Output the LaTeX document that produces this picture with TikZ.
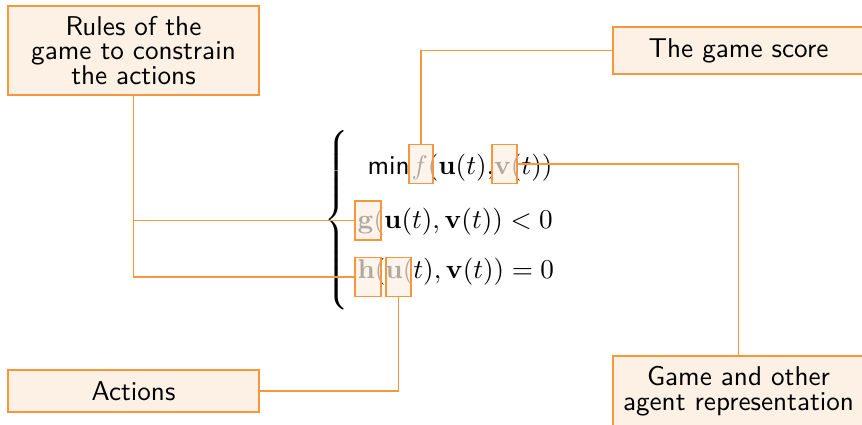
\documentclass[tikz,border=0pt]{standalone}
\usepackage{amsmath}
\definecolor{ocol}{RGB}{247,150,60}
\definecolor{ofill}{RGB}{253,240,228}
\begin{document}
\begin{tikzpicture}[x=0.368pt,y=-0.368pt,
  lbl/.style={draw=ocol, fill=ofill, line width=0.45pt, font={\sffamily\fontsize{10}{9}\selectfont}, align=center, minimum width=92.4pt, inner sep=0pt},
  eq/.style={anchor=base west, inner sep=0pt},
  hl/.style={draw=ocol, fill=ofill, fill opacity=0.7, draw opacity=1, line width=0.45pt, minimum width=9pt, minimum height=14.1pt, inner sep=0pt},
  conn/.style={draw=ocol, line width=0.4pt}]
\useasboundingbox (0,0) rectangle (862,425);
% labelled boxes
\node[lbl, minimum height=32.75pt] (rules) at (133.5,50.5) {Rules of the\\game to constrain\\the actions};
\node[lbl, minimum height=17.3pt] (score) at (738.5,50.5) {The game score};
\node[lbl, minimum height=25.8pt] (game) at (738.5,391) {Game and other\\agent representation};
\node[lbl, minimum height=15.5pt] (actions) at (133.5,391) {Actions};
% equation
\node[inner sep=0pt] (brace) at (338,222) {$\left\{\vrule height 32pt depth 32pt width 0pt\right.$};
\node[eq] (line1a) at (367,175) {\sffamily min};
\node[eq] (line1b) at (411,175) {$f(\mathbf{u}(t),$};
\node[eq, anchor=base east] (line1c) at (553,175) {$\mathbf{v}(t))$};
\node[eq] (line2) at (357,229) {$\mathbf{g}(\mathbf{u}(t),\mathbf{v}(t)) < 0$};
\node[eq] (line3) at (357,279) {$\mathbf{h}(\mathbf{u}(t),\mathbf{v}(t)) = 0$};
% highlight boxes
\node[hl, minimum width=8.8pt] (f) at (421,164) {};
\node[hl, minimum width=9.2pt] (v) at (504.5,164) {};
\node[hl, minimum width=9.6pt, minimum height=14.3pt] (g) at (368,220.5) {};
\node[hl, minimum width=9.6pt] (h) at (368,277) {};
\node[hl, minimum width=9.2pt] (u) at (398.5,277) {};
% connectors
\draw[conn] (rules.south) |- (h.west);
\draw[conn] (rules.south |- g.west) -- (g.west);
\draw[conn] (f.north) |- (score.west);
\draw[conn] (v.east) -| (game.north);
\draw[conn] (u.south) |- (actions.east);
\end{tikzpicture}
\end{document}
